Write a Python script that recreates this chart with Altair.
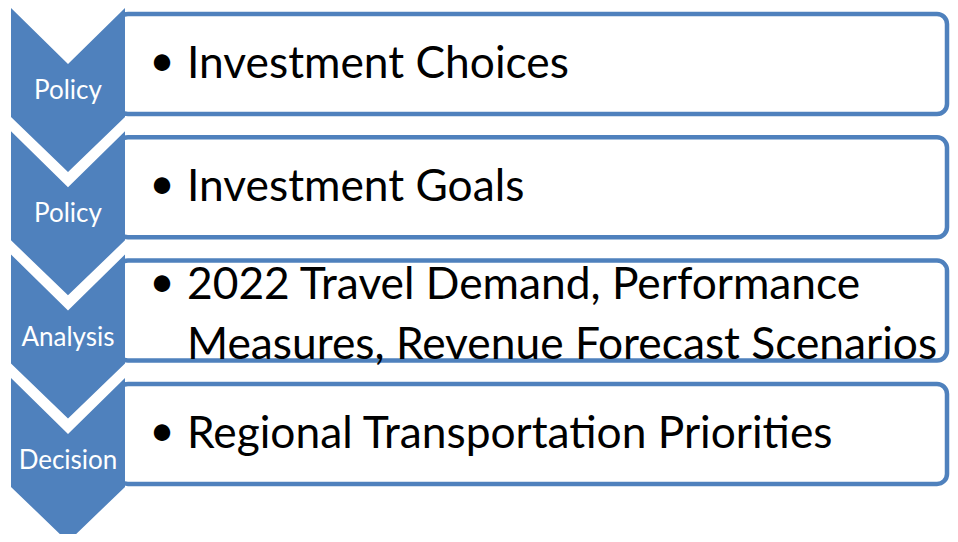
import altair as alt
import pandas as pd

# ---- content ----
steps = ["Policy", "Policy", "Analysis", "Decision"]
details = [
    ["Investment Choices"],
    ["Investment Goals"],
    ["2022 Travel Demand, Performance", "Measures, Revenue Forecast Scenarios"],
    ["Regional Transportation Priorities"],
]

BLUE = "#4F81BD"
FONT = "Lato"

# ---- layout (reference pixel space) ----
X0, Y0 = 8, 8            # page margin
W, H = 942, 526
STEP = 123.3             # vertical spacing between rows
TOP0 = 8

chev_rows, box_rows, label_rows, text_rows, bullet_rows = [], [], [], [], []
for i, name in enumerate(steps):
    t = TOP0 + i * STEP
    for xx, yt, yb in [(11, t, t + 109), (68, t + 56, t + 164), (125, t, t + 109)]:
        chev_rows.append({"idx": i, "x": xx, "y": yt, "y2": yb})
    box_rows.append({"idx": i, "x": 118, "x2": 947, "y": t + 6, "y2": t + 106})
    label_rows.append({"idx": i, "x": 68, "y": t + 91, "label": name})
    lines = details[i]
    if len(lines) == 1:
        base = [t + 70]
        bullet_y = t + 55
    else:
        base = [t + 44.5, t + 104.5]
        bullet_y = t + 29.5
    for b, line in zip(base, lines):
        text_rows.append({"idx": i, "x": 187, "y": b, "text": line})
    bullet_rows.append({"idx": i, "x": 162, "y": bullet_y, "text": "•"})

chev = pd.DataFrame(chev_rows)
boxes = pd.DataFrame(box_rows)
labels = pd.DataFrame(label_rows)
texts = pd.DataFrame(text_rows)
bullets = pd.DataFrame(bullet_rows)

xs = alt.Scale(domain=[X0, X0 + W], range=[0, W])
ys = alt.Scale(domain=[Y0, Y0 + H], range=[0, H])

box_layer = alt.Chart(boxes).mark_rect(
    fill="white", stroke=BLUE, strokeWidth=4.5, cornerRadius=10
).encode(
    x=alt.X("x:Q", scale=xs, axis=None),
    x2="x2:Q",
    y=alt.Y("y:Q", scale=ys, axis=None),
    y2="y2:Q",
)

chev_layer = alt.Chart(chev).mark_area(color=BLUE, opacity=1).encode(
    x=alt.X("x:Q", scale=xs, axis=None),
    y=alt.Y("y:Q", scale=ys, axis=None),
    y2="y2:Q",
    detail="idx:N",
)

label_layer = alt.Chart(labels).mark_text(
    font=FONT, fontSize=26, color="white", align="center", baseline="alphabetic"
).encode(
    x=alt.X("x:Q", scale=xs, axis=None),
    y=alt.Y("y:Q", scale=ys, axis=None),
    text="label:N",
)

text_layer = alt.Chart(texts).mark_text(
    font=FONT, fontSize=44.3, color="black", align="left", baseline="alphabetic"
).encode(
    x=alt.X("x:Q", scale=xs, axis=None),
    y=alt.Y("y:Q", scale=ys, axis=None),
    text="text:N",
)

bullet_layer = alt.Chart(bullets).mark_text(
    font=FONT, fontSize=44, color="black", align="center", baseline="middle"
).encode(
    x=alt.X("x:Q", scale=xs, axis=None),
    y=alt.Y("y:Q", scale=ys, axis=None),
    text="text:N",
)

chart = alt.layer(box_layer, chev_layer, label_layer, text_layer, bullet_layer).properties(
    width=W, height=H, padding=0, autosize="none", background="white"
).configure_view(stroke=None)

chart.save("out.html", embed_options={"renderer": "svg", "actions": False})
